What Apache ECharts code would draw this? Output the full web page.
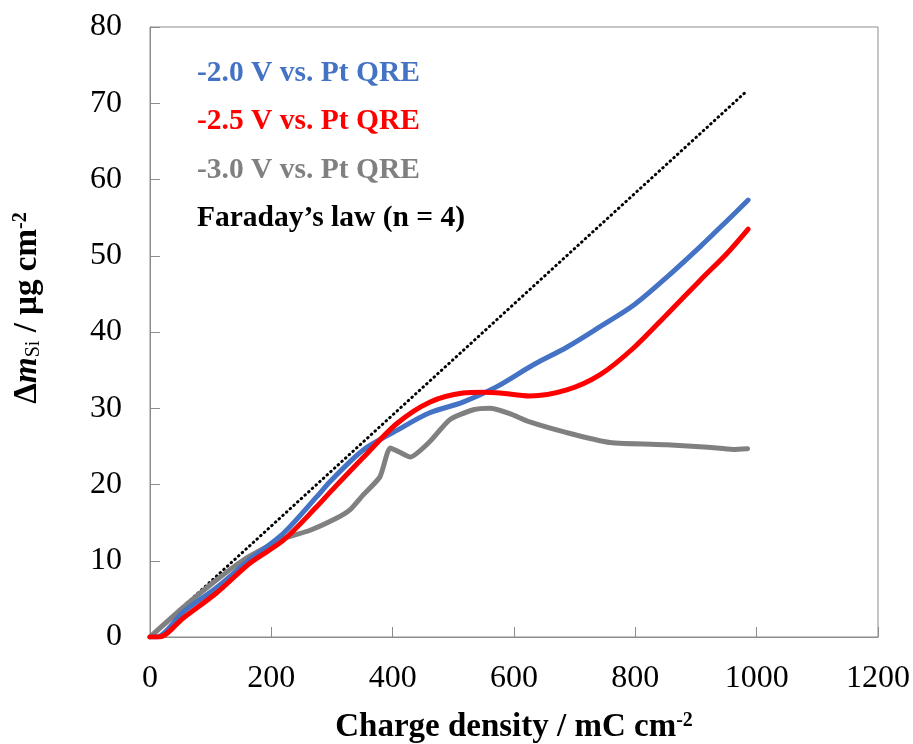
<!DOCTYPE html>
<html>
<head>
<meta charset="utf-8">
<script src="https://cdn.jsdelivr.net/npm/echarts@6/dist/echarts.min.js"></script>
<style>
  html, body { margin: 0; padding: 0; background: #fff; }
  #chart { width: 913px; height: 744px; }
</style>
</head>
<body>
<div id="chart"></div>
<script>
// Mass change of deposited Si versus charge density
const seriesNames = ['-2.0 V vs. Pt QRE', '-2.5 V vs. Pt QRE', '-3.0 V vs. Pt QRE', 'Faraday\u2019s law (n = 4)'];

const v20X = [0, 11, 55, 110, 165, 220, 275, 297, 351, 407, 461, 516, 571, 632, 687, 742, 797, 852, 907, 950, 986];
const v20Y = [0, 0, 3.3, 6.5, 10.2, 13.6, 18.4, 20.4, 24.5, 27.1, 29.4, 30.8, 32.8, 35.7, 38.0, 40.7, 43.5, 47.2, 51.2, 54.5, 57.3];

const v25X = [0, 15, 55, 110, 165, 220, 275, 297, 351, 407, 461, 516, 549, 577, 626, 687, 742, 797, 852, 907, 951, 986];
const v25Y = [0, 0, 2.5, 5.8, 9.7, 12.7, 17.1, 19.0, 23.5, 28.0, 30.8, 32.0, 32.1, 32.0, 31.6, 32.4, 34.4, 37.9, 42.3, 46.8, 50.3, 53.5];

const v30X = [0, 55, 110, 154, 192, 220, 264, 308, 330, 351, 379, 396, 410, 429, 461, 494, 533, 560, 593, 626, 687, 758, 852, 920, 961, 985];
const v30Y = [0, 3.9, 7.5, 10.1, 11.8, 12.9, 14.0, 15.6, 16.7, 18.6, 21.0, 24.8, 24.3, 23.6, 25.6, 28.5, 29.8, 30.0, 29.3, 28.2, 26.8, 25.5, 25.2, 24.9, 24.6, 24.7];

const faradayX = [0, 985];
const faradayY = [0, 71.7];

const xTicks = [0, 200, 400, 600, 800, 1000, 1200];
const yTicks = [0, 10, 20, 30, 40, 50, 60, 70, 80];

const colors = ['#4472C4', '#FF0000', '#808080', '#000000'];
const serif = '"Liberation Serif", "Times New Roman", serif';

const pairs = (xs, ys) => xs.map((x, i) => [x, ys[i]]);

const chart = echarts.init(document.getElementById('chart'), null, { renderer: 'canvas' });

const lineSeries = (name, data, color, width, type, smooth) => ({
  name, type: 'line', data, showSymbol: false, symbol: 'none', smooth,
  lineStyle: { color, width, type, cap: 'round', join: 'round' },
  itemStyle: { color }, emphasis: { disabled: true }, animation: false
});

chart.setOption({
  backgroundColor: '#fff',
  animation: false,
  grid: {
    left: 150, right: 35, top: 27, bottom: 107,
    show: true, borderColor: '#8c8c8c', borderWidth: 1,
    containLabel: false, outerBoundsMode: 'none'
  },
  legend: {
    left: 187, top: 53, orient: 'vertical', itemGap: 18.5, itemWidth: 0, itemHeight: 29.5, icon: 'none',
    selectedMode: false,
    data: seriesNames.map((n, i) => ({ name: n, textStyle: { color: colors[i] } })),
    textStyle: { fontFamily: serif, fontSize: 29.5, lineHeight: 29.5, fontWeight: 'bold' }
  },
  xAxis: {
    type: 'value', min: xTicks[0], max: xTicks[xTicks.length - 1], interval: 200,
    axisLine: { show: true, lineStyle: { color: '#8c8c8c', width: 1 } },
    axisTick: { show: true, inside: true, length: 10, lineStyle: { color: '#8c8c8c' } },
    splitLine: { show: false },
    axisLabel: { fontFamily: serif, fontSize: 32, color: '#000', margin: 26, formatter: v => String(v) },
    name: '{b|Charge density / mC cm}{sup|-2}',
    nameLocation: 'middle', nameGap: 74,
    nameTextStyle: {
      rich: {
        b: { fontFamily: serif, fontSize: 33, fontWeight: 'bold', color: '#000', verticalAlign: 'bottom' },
        sup: { fontFamily: serif, fontSize: 20, fontWeight: 'bold', color: '#000', verticalAlign: 'top' }
      }
    }
  },
  yAxis: {
    type: 'value', min: yTicks[0], max: yTicks[yTicks.length - 1], interval: 10,
    axisLine: { show: true, lineStyle: { color: '#8c8c8c', width: 1 } },
    axisTick: { show: true, inside: true, length: 10, lineStyle: { color: '#8c8c8c' } },
    splitLine: { show: false },
    axisLabel: { fontFamily: serif, fontSize: 32, color: '#000', margin: 28, formatter: v => String(v) },
    name: '{b|\u0394}{i|m}{sub|Si}{b| / \u00b5g cm}{sup|-2}',
    nameLocation: 'middle', nameGap: 106, nameRotate: 90,
    nameTextStyle: {
      padding: [0, 0, 0, 48],
      rich: {
        b: { fontFamily: serif, fontSize: 33, fontWeight: 'bold', color: '#000', verticalAlign: 'bottom' },
        i: { fontFamily: serif, fontSize: 33, fontWeight: 'bold', fontStyle: 'italic', color: '#000', verticalAlign: 'bottom' },
        sub: { fontFamily: serif, fontSize: 20, color: '#000', verticalAlign: 'bottom' },
        sup: { fontFamily: serif, fontSize: 20, fontWeight: 'bold', color: '#000', verticalAlign: 'top' }
      }
    }
  },
  series: [
    lineSeries(seriesNames[3], pairs(faradayX, faradayY), colors[3], 3, [0.5, 4.5], false),
    lineSeries(seriesNames[2], pairs(v30X, v30Y), colors[2], 5, 'solid', 0.2),
    lineSeries(seriesNames[0], pairs(v20X, v20Y), colors[0], 5, 'solid', 0.3),
    lineSeries(seriesNames[1], pairs(v25X, v25Y), colors[1], 5, 'solid', 0.3)
  ]
});
</script>
</body>
</html>
